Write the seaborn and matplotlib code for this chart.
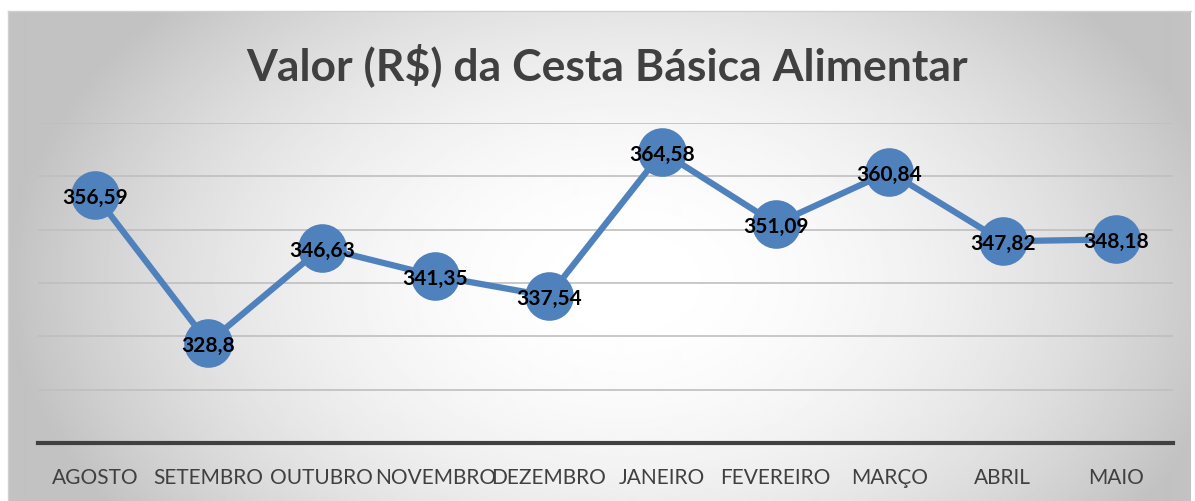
import numpy as np
import pandas as pd
from matplotlib import pyplot as plt
import seaborn as sns

meses = ['AGOSTO', 'SETEMBRO', 'OUTUBRO', 'NOVEMBRO', 'DEZEMBRO',
         'JANEIRO', 'FEVEREIRO', 'MARÇO', 'ABRIL', 'MAIO']
valores = [356.59, 328.8, 346.63, 341.35, 337.54,
           364.58, 351.09, 360.84, 347.82, 348.18]
rotulos = ['356,59', '328,8', '346,63', '341,35', '337,54',
           '364,58', '351,09', '360,84', '347,82', '348,18']
titulo = 'Valor (R$) da Cesta Básica Alimentar'


def fundo(fig):
    # Radial gray-to-white background of the chart area
    bg = fig.add_axes([8 / 1195, 0, 1183 / 1195, 490 / 502])
    h, w = 245, 592
    yy, xx = np.mgrid[0:h, 0:w]
    r = np.sqrt(((xx - w * 0.52) / (w / 2)) ** 2 + ((yy - h * 0.55) / (h * 0.8)) ** 2)
    v = np.clip(1 - 0.22 * r ** 2, 0.76, 1)
    bg.imshow(v, cmap='gray', vmin=0, vmax=1, aspect='auto', interpolation='bilinear')
    bg.set_xticks([])
    bg.set_yticks([])
    for s in bg.spines.values():
        s.set_color('#d0d0d0')
        s.set_linewidth(1)
    bg.spines['bottom'].set_visible(False)
    bg.spines['right'].set_visible(False)
    bg.set_zorder(0)


def main():
    df = pd.DataFrame({'mes': meses, 'valor': valores})

    fig = plt.figure(figsize=(11.95, 5.02), dpi=100)
    fundo(fig)

    ax = fig.add_axes([38 / 1195, 58 / 502, 1135 / 1195, 320 / 502])
    ax.patch.set_alpha(0)

    sns.lineplot(data=df, x='mes', y='valor', ax=ax, sort=False,
                 color='#4F81BD', linewidth=4.5, marker='o', markersize=35,
                 markeredgewidth=0, zorder=3)
    for line in ax.lines:
        line.set_markersize(35)
        line.set_clip_on(False)
    for i, (v, t) in enumerate(zip(valores, rotulos)):
        ax.text(i, v, t, ha='center', va='center_baseline', fontsize=15,
                fontweight='bold', family='Lato', color='black', zorder=4)

    ax.set_xlim(-0.5, len(meses) - 0.5)
    ax.set_ylim(310, 370)
    ax.set_yticks(np.arange(320, 371, 10))
    ax.yaxis.grid(True, color='#bfbfbf', linewidth=1.2)
    ax.set_axisbelow(True)
    ax.tick_params(axis='y', left=False, labelleft=False)
    ax.tick_params(axis='x', bottom=False, pad=14, labelsize=15, labelcolor='#404040')
    for lbl in ax.get_xticklabels():
        lbl.set_family('Lato')
    ax.set_xlabel('')
    ax.set_ylabel('')
    for s in ['top', 'left', 'right']:
        ax.spines[s].set_visible(False)
    ax.spines['bottom'].set_color('#404040')
    ax.spines['bottom'].set_linewidth(3)

    fig.text(607 / 1195, 1 - 65 / 502, titulo, ha='center', va='center',
             fontsize=32, fontweight='bold', family='Lato', color='#404040')

    fig.savefig('out.png', dpi=100)


if __name__ == '__main__':
    main()
